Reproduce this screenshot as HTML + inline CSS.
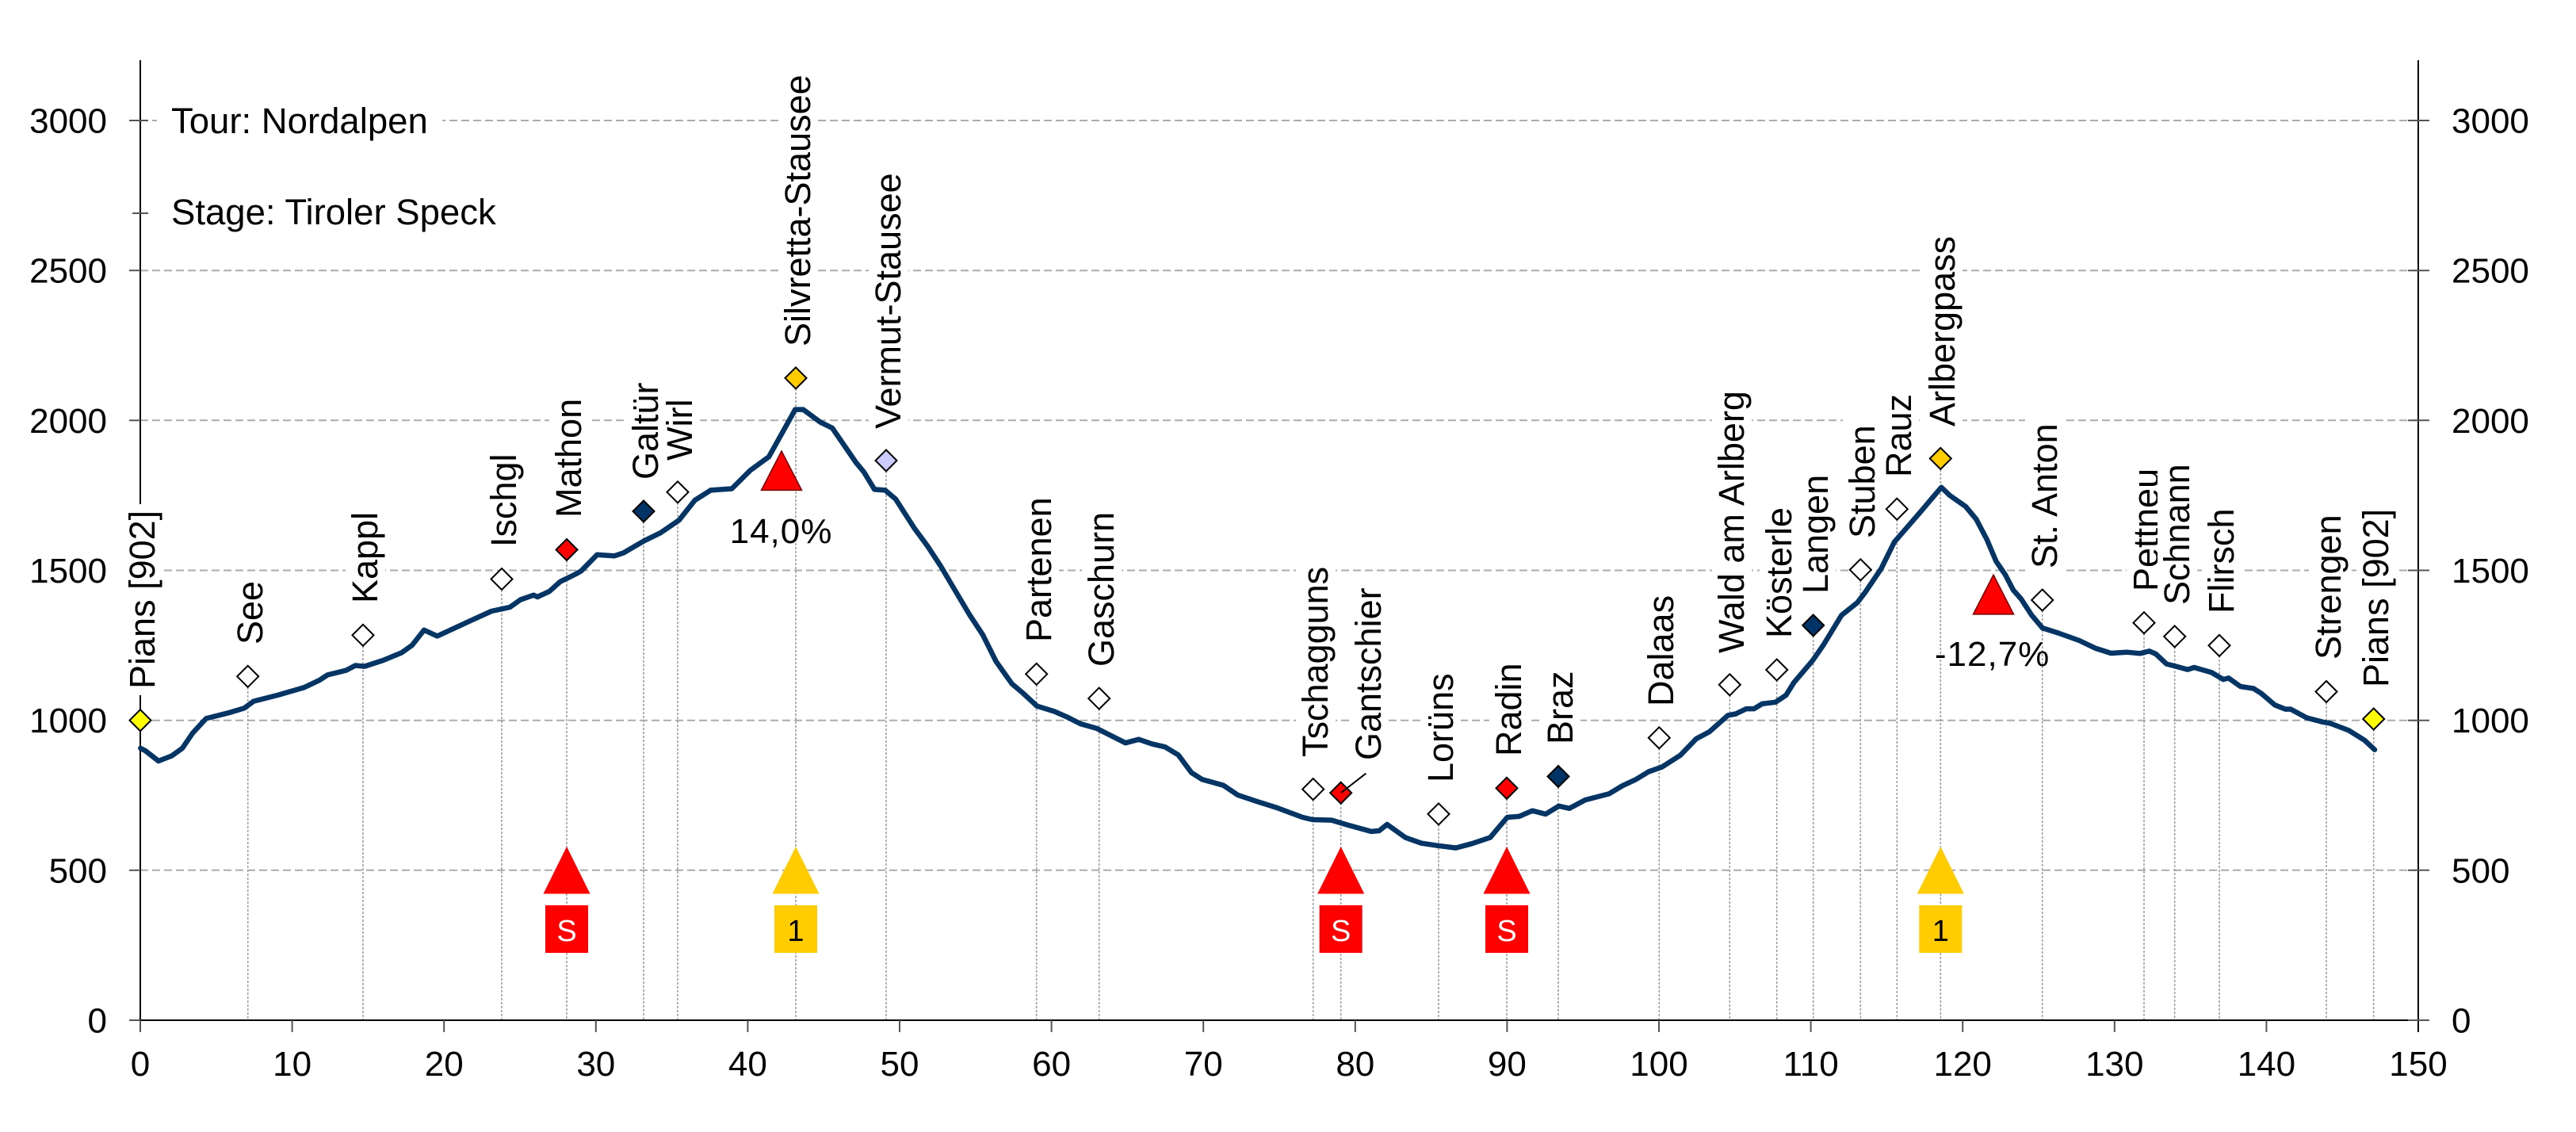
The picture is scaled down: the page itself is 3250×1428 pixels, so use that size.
<!DOCTYPE html>
<html><head><meta charset="utf-8">
<style>
html,body{margin:0;padding:0;background:#fff;}
#wrap{position:relative;width:3250px;height:1428px;overflow:hidden;background:#fff;font-family:"Liberation Sans",Arial,sans-serif;}
svg{position:absolute;left:0;top:0;}
.lb{position:absolute;transform:rotate(-90deg);transform-origin:0 0;font-size:45px;line-height:50px;padding:0 8px;background:#fff;white-space:nowrap;color:#000;}
.hd{position:absolute;font-size:45.5px;line-height:50px;padding:0 18px;background:#fff;white-space:nowrap;color:#000;}
</style></head><body><div id="wrap">
<svg width="3250" height="1428" viewBox="0 0 3250 1428" xmlns="http://www.w3.org/2000/svg" font-family="Liberation Sans, Arial, sans-serif">
<!-- horizontal gridlines -->
<g stroke="#ababab" stroke-width="2" stroke-dasharray="10 5">
<line x1="177" y1="1097.8" x2="3051" y2="1097.8"/>
<line x1="177" y1="908.7" x2="3051" y2="908.7"/>
<line x1="177" y1="719.5" x2="3051" y2="719.5"/>
<line x1="177" y1="530.3" x2="3051" y2="530.3"/>
<line x1="177" y1="341.2" x2="3051" y2="341.2"/>
<line x1="177" y1="152" x2="3051" y2="152"/>
</g>
<!-- drop lines -->
<g stroke="#a0a0a0" stroke-width="1.6" stroke-dasharray="3 2">
<line x1="312.7" y1="867" x2="312.7" y2="1287"/>
<line x1="458" y1="815" x2="458" y2="1287"/>
<line x1="633" y1="744" x2="633" y2="1287"/>
<line x1="715" y1="707" x2="715" y2="1287"/>
<line x1="812" y1="658" x2="812" y2="1287"/>
<line x1="855" y1="634" x2="855" y2="1287"/>
<line x1="1004" y1="490" x2="1004" y2="1287"/>
<line x1="1118" y1="594" x2="1118" y2="1287"/>
<line x1="1307.7" y1="864" x2="1307.7" y2="1287"/>
<line x1="1386.7" y1="894" x2="1386.7" y2="1287"/>
<line x1="1656.7" y1="1009" x2="1656.7" y2="1287"/>
<line x1="1691.7" y1="1013" x2="1691.7" y2="1287"/>
<line x1="1815" y1="1040" x2="1815" y2="1287"/>
<line x1="1901" y1="1008" x2="1901" y2="1287"/>
<line x1="1966" y1="993" x2="1966" y2="1287"/>
<line x1="2093.3" y1="944" x2="2093.3" y2="1287"/>
<line x1="2182.3" y1="877" x2="2182.3" y2="1287"/>
<line x1="2241.7" y1="858" x2="2241.7" y2="1287"/>
<line x1="2287.7" y1="802" x2="2287.7" y2="1287"/>
<line x1="2347.3" y1="732" x2="2347.3" y2="1287"/>
<line x1="2393.3" y1="655" x2="2393.3" y2="1287"/>
<line x1="2448.3" y1="592" x2="2448.3" y2="1287"/>
<line x1="2576.7" y1="770" x2="2576.7" y2="1287"/>
<line x1="2705" y1="799" x2="2705" y2="1287"/>
<line x1="2743.7" y1="816" x2="2743.7" y2="1287"/>
<line x1="2800" y1="827" x2="2800" y2="1287"/>
<line x1="2935" y1="886" x2="2935" y2="1287"/>
<line x1="2994.7" y1="920" x2="2994.7" y2="1287"/>
</g>
<!-- axes -->
<g stroke="#000" stroke-width="2">
<line x1="177" y1="76" x2="177" y2="1288"/>
<line x1="3051" y1="76" x2="3051" y2="1302"/>
<line x1="176" y1="1287" x2="3052" y2="1287"/>
</g>
<!-- ticks -->
<g stroke="#555" stroke-width="2">
<line x1="163" y1="1287" x2="177" y2="1287"/><line x1="163" y1="1097.8" x2="177" y2="1097.8"/><line x1="163" y1="908.7" x2="177" y2="908.7"/><line x1="163" y1="719.5" x2="177" y2="719.5"/><line x1="163" y1="530.3" x2="177" y2="530.3"/><line x1="163" y1="341.2" x2="177" y2="341.2"/><line x1="163" y1="152" x2="187" y2="152"/>
<line x1="167" y1="269" x2="187" y2="269"/>
<line x1="3038" y1="1287" x2="3065" y2="1287"/><line x1="3038" y1="1097.8" x2="3065" y2="1097.8"/><line x1="3038" y1="908.7" x2="3065" y2="908.7"/><line x1="3038" y1="719.5" x2="3065" y2="719.5"/><line x1="3038" y1="530.3" x2="3065" y2="530.3"/><line x1="3038" y1="341.2" x2="3065" y2="341.2"/><line x1="3038" y1="152" x2="3065" y2="152"/>
<line x1="177" y1="1287" x2="177" y2="1302"/><line x1="368.6" y1="1287" x2="368.6" y2="1302"/><line x1="560.2" y1="1287" x2="560.2" y2="1302"/><line x1="751.8" y1="1287" x2="751.8" y2="1302"/><line x1="943.4" y1="1287" x2="943.4" y2="1302"/><line x1="1135" y1="1287" x2="1135" y2="1302"/><line x1="1326.6" y1="1287" x2="1326.6" y2="1302"/><line x1="1518.2" y1="1287" x2="1518.2" y2="1302"/><line x1="1709.8" y1="1287" x2="1709.8" y2="1302"/><line x1="1901.4" y1="1287" x2="1901.4" y2="1302"/><line x1="2093" y1="1287" x2="2093" y2="1302"/><line x1="2284.6" y1="1287" x2="2284.6" y2="1302"/><line x1="2476.2" y1="1287" x2="2476.2" y2="1302"/><line x1="2667.8" y1="1287" x2="2667.8" y2="1302"/><line x1="2859.4" y1="1287" x2="2859.4" y2="1302"/>
</g>
<!-- tick labels -->
<g font-size="44" fill="#000" text-anchor="end">
<text x="135" y="1302.5">0</text><text x="135" y="1113.3">500</text><text x="135" y="924.2">1000</text><text x="135" y="735">1500</text><text x="135" y="545.8">2000</text><text x="135" y="356.7">2500</text><text x="135" y="167.5">3000</text>
</g>
<g font-size="44" fill="#000" text-anchor="start">
<text x="3093" y="1302.5">0</text><text x="3093" y="1113.3">500</text><text x="3093" y="924.2">1000</text><text x="3093" y="735">1500</text><text x="3093" y="545.8">2000</text><text x="3093" y="356.7">2500</text><text x="3093" y="167.5">3000</text>
</g>
<g font-size="44" fill="#000" text-anchor="middle">
<text x="177" y="1357">0</text><text x="368.6" y="1357">10</text><text x="560.2" y="1357">20</text><text x="751.8" y="1357">30</text><text x="943.4" y="1357">40</text><text x="1135" y="1357">50</text><text x="1326.6" y="1357">60</text><text x="1518.2" y="1357">70</text><text x="1709.8" y="1357">80</text><text x="1901.4" y="1357">90</text><text x="2093" y="1357">100</text><text x="2284.6" y="1357">110</text><text x="2476.2" y="1357">120</text><text x="2667.8" y="1357">130</text><text x="2859.4" y="1357">140</text><text x="3051" y="1357">150</text>
</g>
<!-- profile curve -->
<polyline fill="none" stroke="#043565" stroke-width="6.5" stroke-linejoin="round" stroke-linecap="round" points="177.3,943.9 183.3,947 200,960 216.7,953.5 230,943.9 243,924.8 260,906.4 290,898.8 308,893.4 320,884.6 350,877 383.3,867.4 403.3,857.9 413.3,851.4 436.7,845.6 448.3,839.5 460,840.6 483.3,833 506.7,823.4 520,813.9 535,794.8 551.7,802.4 560,798.6 593,783.3 620,771 643.3,766 656.7,756.5 673.3,750.7 678,753 693.3,745.9 706.7,733.8 726.7,724 733.3,720.2 753.3,699.8 775,701.3 786.7,697.4 803.3,687.7 813.3,681.9 833.3,672.2 856.7,656.2 876.7,631 896.7,618.4 923.3,616.5 946.7,593.2 970,576.3 1003.3,516.6 1013.3,516.6 1035,532.6 1050,539.9 1080,583.5 1090,595.6 1103.3,617.4 1116.7,618.4 1130,629.6 1153.3,665.9 1170,688.6 1186.7,713.9 1203.3,742 1223.3,775.6 1240,800.9 1256.7,834.5 1276.7,862.6 1290,873.8 1308.3,890.7 1330,897.4 1346.7,904.7 1363.3,913.1 1383.3,918.7 1403.3,928.8 1420,937.2 1436.7,932.7 1453.3,938.4 1470,942.3 1486.7,952.4 1503.3,974.8 1516.7,983.3 1543.3,990.6 1561.7,1002.9 1586.7,1011.3 1610,1018.6 1643.3,1031 1656,1034 1680,1034.6 1700,1040.6 1730,1048.9 1740,1048 1750,1040 1773.3,1056.6 1793.3,1063.7 1813.3,1066.7 1836.7,1069.6 1856.7,1064.3 1880,1056.6 1890,1044.7 1901.7,1031 1916.7,1029.9 1933.3,1022.7 1950,1027 1966.7,1016.8 1980,1019.8 2000,1009.1 2030,1001.4 2046.7,991.3 2063.3,983.6 2080,973.5 2096.7,967.6 2120,952.8 2140,932 2156.7,923.1 2180,902.4 2190,900.5 2203.3,894.1 2213,894.1 2223.3,887.8 2240,885.8 2253.3,877 2263.3,861 2286.7,833.5 2300,814.4 2323.3,776.2 2343.3,760.2 2353,747.5 2373.3,717.5 2390,683.7 2406.7,664.5 2423.3,645.4 2436.7,629.5 2449.3,614.8 2460,625 2480,639 2493.3,655 2506.7,680.5 2518.3,707.9 2530,725.1 2540,744.3 2550,755.7 2563.3,776.1 2576.7,792.1 2596.7,798.5 2623.3,808 2643.3,817.6 2663.3,824 2683.3,822.7 2700,824.3 2711.7,821.4 2720,825 2733.3,837.5 2746.7,841 2760,844.6 2768.3,842 2790,848.2 2805,857.1 2811.7,855.4 2826.7,866 2843.3,868.6 2853.3,875 2870,889.3 2883.3,894.6 2890,894.6 2910,905.4 2930,910.7 2940,912.5 2963.3,921.4 2983.3,933.9 2996,945.7"/>
<!-- diamonds -->
<g stroke="#000" stroke-width="2">
<polygon fill="#ffff00" points="177,895.2 190.5,908.7 177,922.2 163.5,908.7"/>
<polygon fill="#fff" points="312.7,839.8 326.2,853.3 312.7,866.8 299.2,853.3"/>
<polygon fill="#fff" points="458,787.8 471.5,801.3 458,814.8 444.5,801.3"/>
<polygon fill="#fff" points="633,717 646.5,730.5 633,744 619.5,730.5"/>
<polygon fill="#ff0000" points="715,680 728.5,693.5 715,707 701.5,693.5"/>
<polygon fill="#003366" points="812,631.5 825.5,645 812,658.5 798.5,645"/>
<polygon fill="#fff" points="855,607.3 868.5,620.8 855,634.3 841.5,620.8"/>
<polygon fill="#ffcc00" points="1004,463.4 1017.5,476.9 1004,490.4 990.5,476.9"/>
<polygon fill="#ccccff" points="1118,567.5 1131.5,581 1118,594.5 1104.5,581"/>
<polygon fill="#fff" points="1307.7,836.8 1321.2,850.3 1307.7,863.8 1294.2,850.3"/>
<polygon fill="#fff" points="1386.7,867.6 1400.2,881.1 1386.7,894.6 1373.2,881.1"/>
<polygon fill="#fff" points="1656.7,982.1 1670.2,995.6 1656.7,1009.1 1643.2,995.6"/>
<polygon fill="#ff0000" points="1691.7,986.7 1705.2,1000.2 1691.7,1013.7 1678.2,1000.2"/>
<polygon fill="#fff" points="1815,1013.4 1828.5,1026.9 1815,1040.4 1801.5,1026.9"/>
<polygon fill="#ff0000" points="1901,980.8 1914.5,994.3 1901,1007.8 1887.5,994.3"/>
<polygon fill="#003366" points="1966,966 1979.5,979.5 1966,993 1952.5,979.5"/>
<polygon fill="#fff" points="2093.3,917.3 2106.8,930.8 2093.3,944.3 2079.8,930.8"/>
<polygon fill="#fff" points="2182.3,850.3 2195.8,863.8 2182.3,877.3 2168.8,863.8"/>
<polygon fill="#fff" points="2241.7,831.5 2255.2,845 2241.7,858.5 2228.2,845"/>
<polygon fill="#003366" points="2287.7,775.4 2301.2,788.9 2287.7,802.4 2274.2,788.9"/>
<polygon fill="#fff" points="2347.3,705.3 2360.8,718.8 2347.3,732.3 2333.8,718.8"/>
<polygon fill="#fff" points="2393.3,628.7 2406.8,642.2 2393.3,655.7 2379.8,642.2"/>
<polygon fill="#ffcc00" points="2448.3,564.9 2461.8,578.4 2448.3,591.9 2434.8,578.4"/>
<polygon fill="#fff" points="2576.7,743.5 2590.2,757 2576.7,770.5 2563.2,757"/>
<polygon fill="#fff" points="2705,772.2 2718.5,785.7 2705,799.2 2691.5,785.7"/>
<polygon fill="#fff" points="2743.7,789.4 2757.2,802.9 2743.7,816.4 2730.2,802.9"/>
<polygon fill="#fff" points="2800,800.8 2813.5,814.3 2800,827.8 2786.5,814.3"/>
<polygon fill="#fff" points="2935,859 2948.5,872.5 2935,886 2921.5,872.5"/>
<polygon fill="#ffff00" points="2994.7,893.5 3008.2,907 2994.7,920.5 2981.2,907"/>
</g>
<line x1="1692" y1="1000" x2="1723.3" y2="975.7" stroke="#000" stroke-width="2"/>
<!-- gradient triangles -->
<polygon points="986,569 1011.5,618.4 960.5,618.4" fill="#ff0000" stroke="#700" stroke-width="1.5"/>
<polygon points="2515,725.1 2540.5,774.9 2489.5,774.9" fill="#ff0000" stroke="#700" stroke-width="1.5"/>
<text x="985.5" y="685" font-size="44" text-anchor="middle" fill="#000" letter-spacing="1">14,0%</text>
<text x="2513.6" y="840" font-size="44" text-anchor="middle" fill="#000" letter-spacing="1">-12,7%</text>
<!-- bottom markers -->
<g font-size="38" text-anchor="middle">
<polygon points="715,1068 744.5,1127.5 685.5,1127.5" fill="#ff0000"/>
<rect x="688" y="1142" width="54" height="60" fill="#ff0000"/>
<text x="715" y="1187" fill="#fff">S</text>
<polygon points="1004,1068 1033.5,1127.5 974.5,1127.5" fill="#ffcc00"/>
<rect x="977" y="1142" width="54" height="60" fill="#ffcc00"/>
<text x="1004" y="1187" fill="#000">1</text>
<polygon points="1691.7,1068 1721.2,1127.5 1662.2,1127.5" fill="#ff0000"/>
<rect x="1664.7" y="1142" width="54" height="60" fill="#ff0000"/>
<text x="1691.7" y="1187" fill="#fff">S</text>
<polygon points="1901,1068 1930.5,1127.5 1871.5,1127.5" fill="#ff0000"/>
<rect x="1874" y="1142" width="54" height="60" fill="#ff0000"/>
<text x="1901" y="1187" fill="#fff">S</text>
<polygon points="2448.3,1068 2477.8,1127.5 2418.8,1127.5" fill="#ffcc00"/>
<rect x="2421.3" y="1142" width="54" height="60" fill="#ffcc00"/>
<text x="2448.3" y="1187" fill="#000">1</text>
</g>
</svg>
<div class="hd" style="left:198px;top:128px;">Tour: Nordalpen</div>
<div class="hd" style="left:198px;top:243px;">Stage: Tiroler Speck</div>
<div class="lb" style="left:155px;top:877px;">Pians [902]</div>
<div class="lb" style="left:290.7px;top:821px;">See</div>
<div class="lb" style="left:436px;top:769px;">Kappl</div>
<div class="lb" style="left:611px;top:698px;">Ischgl</div>
<div class="lb" style="left:693px;top:661px;">Mathon</div>
<div class="lb" style="left:790px;top:613px;">Galtür</div>
<div class="lb" style="left:833px;top:589px;">Wirl</div>
<div class="lb" style="left:982px;top:445px;">Silvretta-Stausee</div>
<div class="lb" style="left:1096px;top:549px;">Vermut-Stausee</div>
<div class="lb" style="left:1285.7px;top:818px;">Partenen</div>
<div class="lb" style="left:1364.7px;top:849px;">Gaschurn</div>
<div class="lb" style="left:1634.7px;top:963px;">Tschagguns</div>
<div class="lb" style="left:1701.7px;top:967px;">Gantschier</div>
<div class="lb" style="left:1793px;top:995px;">Lorüns</div>
<div class="lb" style="left:1879px;top:962px;">Radin</div>
<div class="lb" style="left:1944px;top:947px;">Braz</div>
<div class="lb" style="left:2071.3px;top:899px;">Dalaas</div>
<div class="lb" style="left:2160.3px;top:832px;">Wald am Arlberg</div>
<div class="lb" style="left:2219.7px;top:813px;">Kösterle</div>
<div class="lb" style="left:2265.7px;top:757px;">Langen</div>
<div class="lb" style="left:2325.3px;top:687px;">Stuben</div>
<div class="lb" style="left:2371.3px;top:610px;">Rauz</div>
<div class="lb" style="left:2426.3px;top:546px;">Arlbergpass</div>
<div class="lb" style="left:2554.7px;top:725px;">St. Anton</div>
<div class="lb" style="left:2683px;top:754px;">Pettneu</div>
<div class="lb" style="left:2721.7px;top:771px;">Schnann</div>
<div class="lb" style="left:2778px;top:782px;">Flirsch</div>
<div class="lb" style="left:2913px;top:840px;">Strengen</div>
<div class="lb" style="left:2972.7px;top:875px;">Pians [902]</div>
</div></body></html>
